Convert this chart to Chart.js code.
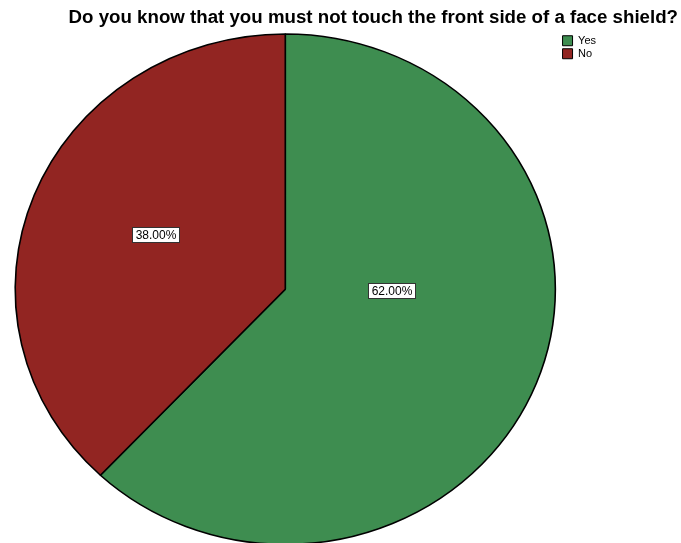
<!DOCTYPE html>
<html>
<head>
<meta charset="utf-8">
<script src="https://cdn.jsdelivr.net/npm/chart.js@4.4.1/dist/chart.umd.min.js"></script>
<style>
    html, body { margin: 0; padding: 0; background: #fff; overflow: hidden; }
    #wrap { width: 681px; height: 600px; }
</style>
</head>
<body>
<div id="wrap"><canvas id="pie" width="681" height="600"></canvas></div>
<script>
// data

const chartTitle = 'Do you know that you must not touch the front side of a face shield?';
const answers = ['Yes', 'No'];
const percents = [62.00, 38.00];
const sliceColors = ['rgb(62,141,80)', 'rgb(146,37,34)'];

const fontFamily = '"Liberation Sans", Arial, sans-serif';

// SPSS squashes the pie a little (taller than wide is ~0.945)
const squash = 0.945;

// plugins

const squashPlugin = {
    id: 'squash',
    beforeDatasetsDraw(chart){
        const ctx = chart.ctx, top = chart.chartArea.top;
        ctx.save();
        ctx.translate(0, top);
        ctx.scale(1, squash);
        ctx.translate(0, -top);
    },
    afterDatasetsDraw(chart){
        chart.ctx.restore();
    }
};

// title runs to the right edge of the canvas, past the legend column
const titleSpan = {
    id: 'titleSpan',
    afterLayout(chart){
        const t = chart.titleBlock;
        t.left = 0;
        t.right = chart.width - 3;
        t.width = t.right - t.left;
    }
};

const valueLabels = {
    id: 'valueLabels',
    afterDraw(chart, args, opts){
        const ctx = chart.ctx;
        const top = chart.chartArea.top;
        const meta = chart.getDatasetMeta(0);
        ctx.save();
        ctx.font = '12px ' + fontFamily;
        ctx.textAlign = 'center';
        ctx.textBaseline = 'middle';
        meta.data.forEach((arc, i) => {
            const r = arc.outerRadius;
            const cy = top + (arc.y - top) * squash;
            const off = opts.offsets[i];
            const x = arc.x + off[0] * r;
            const y = cy + off[1] * r;
            const text = percents[i].toFixed(2) + '%';
            const w = Math.round(ctx.measureText(text).width + 6);
            const h = 15;
            const bx = Math.round(x - w / 2), by = Math.round(y - h / 2);
            ctx.fillStyle = '#fff';
            ctx.fillRect(bx, by, w, h);
            ctx.strokeStyle = '#333';
            ctx.lineWidth = 1;
            ctx.strokeRect(bx + 0.5, by + 0.5, w, h);
            ctx.fillStyle = '#000';
            ctx.fillText(text, bx + w / 2 + 0.5, by + h / 2 + 1);
        });
        ctx.restore();
    }
};

// chart

new Chart('pie', {
    type: 'pie',
    data: {
        labels: answers,
        datasets: [{
            data: percents,
            backgroundColor: sliceColors,
            borderColor: '#000',
            borderWidth: 1.6
        }]
    },
    options: {
        responsive: false,
        animation: false,
        events: [],
        layout: {
            padding: {left: 10, right: 75, top: 0, bottom: 25}
        },
        plugins: {
            title: {
                display: true,
                text: chartTitle,
                align: 'end',
                color: '#000',
                font: {family: fontFamily, size: 18.7, weight: 'bold'},
                padding: {top: 6.4, bottom: 4.4}
            },
            legend: {
                position: 'right',
                align: 'start',
                fullSize: false,
                labels: {
                    boxWidth: 10,
                    boxHeight: 10,
                    padding: 2,
                    color: '#000',
                    font: {family: fontFamily, size: 11},
                    generateLabels(chart){
                        return Chart.overrides.pie.plugins.legend.labels.generateLabels(chart)
                            .map(l => Object.assign(l, {lineWidth: 1}));
                    }
                }
            },
            tooltip: {enabled: false},
            valueLabels: {
                offsets: [[0.395, 0.004], [-0.4815, -0.201]]
            }
        }
    },
    plugins: [squashPlugin, titleSpan, valueLabels]
});
</script>
</body>
</html>
